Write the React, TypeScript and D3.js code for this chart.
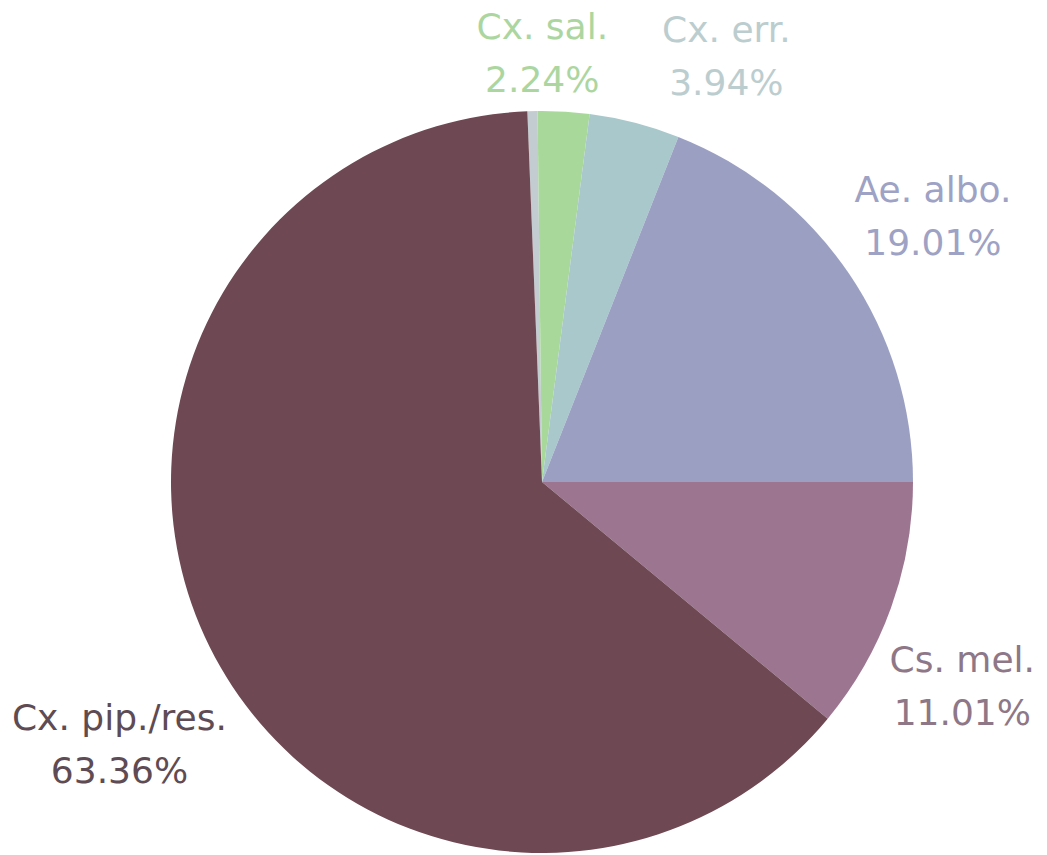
import React from "react";
import * as d3 from "d3";

// species share of collected mosquitoes (%)
const species = ["Other", "Cx. sal.", "Cx. err.", "Ae. albo.", "Cs. mel.", "Cx. pip./res."];
const shares = [0.44, 2.24, 3.94, 19.01, 11.01, 63.36];
const sliceColors = ["#c3ccd0", "#a8d99a", "#a9c8cc", "#9ba0c3", "#9c7590", "#6e4852"];
const labelColors = ["#c3ccd0", "#acd69f", "#bccdcf", "#9ea2c4", "#8e7787", "#5e4b53"];

const width = 1047;
const height = 855;
const cx = 542;
const cy = 482;
const radius = 371;
const fontSize = 36;
const lineGap = 53;
const fontFamily = "'DejaVu Sans', Verdana, sans-serif";

const measure = (() => {
  const ctx = document.createElement("canvas").getContext("2d")!;
  ctx.font = `${fontSize}px ${fontFamily}`;
  return (s: string) => ctx.measureText(s).width;
})();

type Box = { x: number; y: number; hw: number; hh: number };

// distance from pie centre to nearest point of a label box
const boxDist = (b: Box) => {
  const dx = Math.max(Math.abs(b.x) - b.hw, 0);
  const dy = Math.max(Math.abs(b.y) - b.hh, 0);
  return Math.hypot(dx, dy);
};

// smallest t in [0, max] for which test(t) holds (test monotone)
const bisect = (test: (t: number) => boolean, max: number) => {
  let lo = 0;
  let hi = max;
  for (let j = 0; j < 40; j++) {
    const mid = (lo + hi) / 2;
    if (test(mid)) hi = mid;
    else lo = mid;
  }
  return hi;
};

const App: React.FC = () => {
  const total = d3.sum(shares);
  // rotate so the Ae. albo. / Cs. mel. boundary sits at 3 o'clock
  const offset = Math.PI / 2 - (2 * Math.PI * d3.sum(shares.slice(0, 4))) / total;
  const arcs = d3
    .pie<number>()
    .sort(null)
    .value((d) => d)
    .startAngle(offset)
    .endAngle(offset + 2 * Math.PI)(shares);

  const arcGen = d3.arc<d3.PieArcDatum<number>>().innerRadius(0).outerRadius(radius);

  const gap = 10;
  const pad = 54;
  const edge = 12;
  const placed: Box[] = [];
  const labels = arcs
    .map((a, i) => {
      if (shares[i] < 1) return null; // slivers get no label
      const line1 = species[i];
      const line2 = `${shares[i].toFixed(2)}%`;
      const hw = Math.max(measure(line1), measure(line2)) / 2;
      const hh = 48;
      const ang = (a.startAngle + a.endAngle) / 2;
      const ux = Math.sin(ang);
      const uy = -Math.cos(ang);
      const d = bisect((t) => boxDist({ x: ux * t, y: uy * t, hw, hh }) >= radius + gap, radius * 3);
      const box: Box = { x: ux * d, y: uy * d, hw, hh };
      // keep inside the view, sliding along the pie edge
      const minX = edge + hw - cx;
      const maxX = width - edge - hw - cx;
      if (box.x < minX || box.x > maxX) {
        box.x = Math.min(Math.max(box.x, minX), maxX);
        const sy = Math.sign(box.y) || 1;
        box.y = sy * bisect((t) => boxDist({ x: box.x, y: t, hw, hh }) >= radius + gap, radius * 3);
      }
      // spread apart from labels already placed (new label moves most)
      placed.forEach((p) => {
        const need = p.hw + box.hw + pad;
        const overlap = need - Math.abs(p.x - box.x);
        if (Math.abs(p.y - box.y) < p.hh + box.hh && overlap > 0) {
          const dir = box.x >= p.x ? 1 : -1;
          p.x -= dir * overlap * 0.25;
          box.x += dir * overlap * 0.75;
        }
      });
      placed.push(box);
      return { i, line1, line2, box };
    })
    .filter((d): d is NonNullable<typeof d> => d !== null);

  return (
    <svg
      width={width}
      height={height}
      style={{ position: "absolute", left: 0, top: 0, background: "#fff" }}
    >
      <g transform={`translate(${cx},${cy})`}>
        {arcs.map((a, i) => (
          <path key={i} d={arcGen(a) ?? ""} fill={sliceColors[i]} stroke="none" />
        ))}
      </g>
      {labels.map((l) => (
        <text
          key={l.i}
          textAnchor="middle"
          fill={labelColors[l.i]}
          style={{ fontFamily, fontSize }}
        >
          <tspan x={cx + l.box.x} y={cy + l.box.y - lineGap / 2} dominantBaseline="central">
            {l.line1}
          </tspan>
          <tspan x={cx + l.box.x} y={cy + l.box.y + lineGap / 2} dominantBaseline="central">
            {l.line2}
          </tspan>
        </text>
      ))}
    </svg>
  );
};

export default App;
